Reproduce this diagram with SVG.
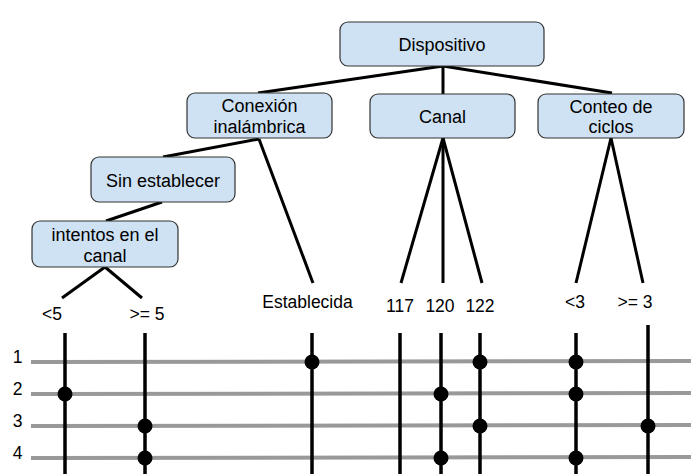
<svg xmlns="http://www.w3.org/2000/svg" width="691" height="474" viewBox="0 0 691 474">
<style>
.box{fill:#cfe2f3;stroke:#333;stroke-width:1.2}
.t{font-family:"Liberation Sans",Arial,sans-serif;font-size:18px;fill:#000;text-anchor:middle}
.l{font-family:"Liberation Sans",Arial,sans-serif;font-size:17.5px;fill:#000;text-anchor:middle}
.e{stroke:#000;stroke-width:3;fill:none}
.row{stroke:#999;stroke-width:4}
.bar{stroke:#000;stroke-width:3.5}
.dot{fill:#000}
</style>
<rect width="691" height="474" fill="#fff"/>
<g id="connectors">
<line class="e" x1="443" y1="66" x2="258" y2="93"/>
<line class="e" x1="443" y1="66" x2="443" y2="94"/>
<line class="e" x1="443" y1="66" x2="612" y2="93"/>
<line class="e" x1="259" y1="139" x2="163" y2="157"/>
<line class="e" x1="259" y1="139" x2="313" y2="283"/>
<line class="e" x1="162" y1="202" x2="106" y2="221"/>
<line class="e" x1="105" y1="267" x2="62" y2="298"/>
<line class="e" x1="105" y1="267" x2="142" y2="298"/>
<line class="e" x1="443" y1="138" x2="401" y2="283"/>
<line class="e" x1="443" y1="138" x2="443" y2="283"/>
<line class="e" x1="443" y1="138" x2="482" y2="283"/>
<line class="e" x1="611" y1="138" x2="576" y2="283"/>
<line class="e" x1="611" y1="138" x2="643" y2="283"/>
</g>
<g id="n-dispositivo"><rect class="box" x="340" y="22" width="204" height="44" rx="8"/><text class="t" x="442" y="51">Dispositivo</text></g>
<g id="n-conexion"><rect class="box" x="187" y="93" width="145" height="45" rx="8"/><text class="t" x="259.5" y="112">Conexión</text><text class="t" x="259.5" y="133">inalámbrica</text></g>
<g id="n-canal"><rect class="box" x="370" y="94" width="145" height="44" rx="8"/><text class="t" x="442.5" y="123">Canal</text></g>
<g id="n-conteo"><rect class="box" x="538" y="94" width="146" height="44" rx="8"/><text class="t" x="611" y="113">Conteo de</text><text class="t" x="611" y="133">ciclos</text></g>
<g id="n-sin"><rect class="box" x="91" y="157" width="144" height="45" rx="8"/><text class="t" x="163" y="187">Sin establecer</text></g>
<g id="n-intentos"><rect class="box" x="32" y="221" width="146" height="46" rx="8"/><text class="t" x="105" y="241">intentos en el</text><text class="t" x="105" y="262">canal</text></g>
<g id="labels">
<text class="l" x="52" y="320">&lt;5</text>
<text class="l" x="147" y="320">&gt;= 5</text>
<text class="l" x="307.5" y="308">Establecida</text>
<text class="l" x="400" y="312">117</text>
<text class="l" x="440" y="312">120</text>
<text class="l" x="480" y="312">122</text>
<text class="l" x="575" y="308">&lt;3</text>
<text class="l" x="635" y="308">&gt;= 3</text>
<text class="l" x="17.5" y="363">1</text>
<text class="l" x="17.5" y="395">2</text>
<text class="l" x="17.5" y="427">3</text>
<text class="l" x="17.5" y="459">4</text>
</g>
<g id="rows">
<line class="row" x1="31" y1="362" x2="691" y2="361"/>
<line class="row" x1="31" y1="394" x2="691" y2="393"/>
<line class="row" x1="31" y1="426" x2="691" y2="425"/>
<line class="row" x1="31" y1="458" x2="691" y2="457"/>
</g>
<g id="bars">
<line class="bar" x1="65" y1="333" x2="65" y2="474"/>
<line class="bar" x1="145" y1="333" x2="145" y2="474"/>
<line class="bar" x1="312" y1="333" x2="312" y2="474"/>
<line class="bar" x1="400" y1="333" x2="400" y2="474"/>
<line class="bar" x1="441" y1="333" x2="441" y2="474"/>
<line class="bar" x1="480" y1="333" x2="480" y2="474"/>
<line class="bar" x1="576" y1="333" x2="576" y2="474"/>
<line class="bar" x1="648" y1="325" x2="648" y2="474"/>
</g>
<g id="dots">
<circle class="dot" cx="65" cy="394" r="7.5"/>
<circle class="dot" cx="145" cy="426" r="7.5"/>
<circle class="dot" cx="145" cy="458" r="7.5"/>
<circle class="dot" cx="312" cy="362" r="7.5"/>
<circle class="dot" cx="441" cy="394" r="7.5"/>
<circle class="dot" cx="441" cy="458" r="7.5"/>
<circle class="dot" cx="480" cy="362" r="7.5"/>
<circle class="dot" cx="480" cy="426" r="7.5"/>
<circle class="dot" cx="576" cy="362" r="7.5"/>
<circle class="dot" cx="576" cy="394" r="7.5"/>
<circle class="dot" cx="576" cy="458" r="7.5"/>
<circle class="dot" cx="648" cy="426" r="7.5"/>
</g>
</svg>
